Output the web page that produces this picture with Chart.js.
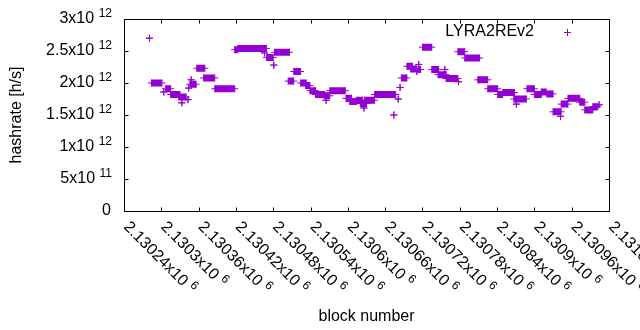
<!DOCTYPE html>
<html>
<head>
<meta charset="utf-8">
<script src="https://cdn.jsdelivr.net/npm/chart.js@4/dist/chart.umd.min.js"></script>
<style>
  html, body { margin: 0; padding: 0; background: #fff; }
  #wrap { width: 640px; height: 330px; }
</style>
</head>
<body>
<div id="wrap"><canvas id="hashChart" width="640" height="330"></canvas></div>
<script>
// --- Data: runs of blocks with the same estimated hashrate (h/s) ---
// a run with start == end is a single block
const segStart = [
    2130281, 2130284, 2130304, 2130307, 2130315, 2130328, 2130333, 2130343, 2130344, 2130346,
    2130348, 2130357, 2130368, 2130386, 2130418, 2130423, 2130466, 2130469, 2130481, 2130482,
    2130504, 2130513, 2130524, 2130532, 2130539, 2130548, 2130562, 2130565, 2130571, 2130597,
    2130603, 2130614, 2130620, 2130626, 2130627, 2130643, 2130674, 2130681, 2130684, 2130686,
    2130695, 2130701, 2130711, 2130714, 2130713, 2130720, 2130735, 2130745, 2130756, 2130758,
    2130778, 2130777, 2130788, 2130809, 2130825, 2130841, 2130849, 2130867, 2130871, 2130888,
    2130900, 2130911, 2130920, 2130930, 2130942, 2130943, 2130954, 2130973, 2130981, 2130994,
    2131004
];
const segEnd = [
    2130281, 2130301, 2130304, 2130315, 2130330, 2130340, 2130333, 2130343, 2130344, 2130356,
    2130348, 2130370, 2130386, 2130418, 2130423, 2130469, 2130466, 2130480, 2130481, 2130506,
    2130513, 2130524, 2130533, 2130539, 2130548, 2130563, 2130571, 2130565, 2130596, 2130606,
    2130614, 2130624, 2130630, 2130626, 2130643, 2130677, 2130674, 2130681, 2130684, 2130695,
    2130704, 2130711, 2130711, 2130714, 2130717, 2130735, 2130746, 2130758, 2130756, 2130777,
    2130778, 2130788, 2130812, 2130825, 2130841, 2130849, 2130868, 2130887, 2130871, 2130900,
    2130911, 2130919, 2130930, 2130943, 2130942, 2130954, 2130973, 2130981, 2130994, 2131002,
    2131004
];
const segValue = [
    2.70e12, 2.00e12, 1.86e12, 1.91e12, 1.82e12, 1.78e12, 1.69e12, 1.74e12, 1.92e12, 1.98e12,
    2.05e12, 2.23e12, 2.08e12, 1.91e12, 2.52e12, 2.54e12, 2.47e12, 2.40e12, 2.28e12, 2.48e12,
    2.03e12, 2.18e12, 2.00e12, 1.96e12, 1.88e12, 1.82e12, 1.80e12, 1.73e12, 1.88e12, 1.76e12,
    1.71e12, 1.73e12, 1.68e12, 1.61e12, 1.73e12, 1.82e12, 1.50e12, 1.75e12, 1.93e12, 2.08e12,
    2.26e12, 2.22e12, 2.18e12, 2.29e12, 2.21e12, 2.56e12, 2.21e12, 2.13e12, 2.21e12, 2.07e12,
    2.02e12, 2.49e12, 2.39e12, 2.05e12, 1.91e12, 1.82e12, 1.85e12, 1.75e12, 1.67e12, 1.91e12,
    1.82e12, 1.86e12, 1.83e12, 1.55e12, 1.48e12, 1.67e12, 1.76e12, 1.70e12, 1.58e12, 1.63e12,
    1.66e12
];

const xTicks = [2130240, 2130300, 2130360, 2130420, 2130480, 2130540, 2130600,
                2130660, 2130720, 2130780, 2130840, 2130900, 2130960, 2131020];
const yTicks = [0, 5e11, 1e12, 1.5e12, 2e12, 2.5e12, 3e12];

const seriesName = 'LYRA2REv2';
const purple = '#9400d3';
const fontFamily = '"Liberation Sans", Arial, sans-serif';
const mainSize = 16;
const expSize = 12;

// each run becomes two points joined by a thick line, then a gap
var points = [];
for (var i = 0; i < segStart.length; i++) {
    points.push({ x: segStart[i], y: segValue[i] });
    points.push({ x: segEnd[i], y: segValue[i] });
    points.push({ x: segEnd[i], y: null });
}

// "2.5x10" + "12"
function sciParts(v) {
    if (v === 0) return ['0', ''];
    var e = Math.floor(Math.log10(v) + 1e-9);
    var m = parseFloat((v / Math.pow(10, e)).toPrecision(6));
    return [m + 'x10', String(e)];
}

// gnuplot-like frame, inward ticks, labels with exponents, key
const gnuplotFrame = {
    id: 'gnuplotFrame',
    afterDraw: function (chart) {
        var ctx = chart.ctx;
        var a = chart.chartArea;
        var xs = chart.scales.x, ys = chart.scales.y;
        var L = Math.round(a.left) + 0.5, R = Math.round(a.right) + 0.5;
        var T = Math.round(a.top) + 0.5, B = Math.round(a.bottom) + 0.5;
        var tl = 4;

        ctx.save();
        ctx.strokeStyle = '#000';
        ctx.lineWidth = 1;
        ctx.beginPath();
        ctx.rect(L, T, R - L, B - T);
        yTicks.forEach(function (v) {
            var py = Math.round(ys.getPixelForValue(v)) + 0.5;
            ctx.moveTo(L, py); ctx.lineTo(L + tl, py);
            ctx.moveTo(R, py); ctx.lineTo(R - tl, py);
        });
        xTicks.forEach(function (v) {
            var px = Math.round(xs.getPixelForValue(v)) + 0.5;
            ctx.moveTo(px, B); ctx.lineTo(px, B - tl);
            ctx.moveTo(px, T); ctx.lineTo(px, T + tl);
        });
        ctx.stroke();

        ctx.fillStyle = '#000';
        ctx.textBaseline = 'middle';

        // y tick labels
        yTicks.forEach(function (v) {
            var py = ys.getPixelForValue(v);
            var p = sciParts(v);
            var right = 112;
            ctx.textAlign = 'right';
            if (p[1]) {
                ctx.font = expSize + 'px ' + fontFamily;
                var ew = ctx.measureText(p[1]).width;
                ctx.fillText(p[1], right, py - 5);
                ctx.font = mainSize + 'px ' + fontFamily;
                ctx.fillText(p[0], right - ew - 4.5, py);
            } else {
                ctx.font = mainSize + 'px ' + fontFamily;
                ctx.fillText(p[0], right - 1, py);
            }
        });

        // x tick labels, rotated 45 degrees
        xTicks.forEach(function (v) {
            var px = xs.getPixelForValue(v);
            var p = sciParts(v);
            ctx.save();
            ctx.translate(px + 2, B + 13);
            ctx.rotate(Math.PI / 4);
            ctx.textAlign = 'left';
            ctx.font = mainSize + 'px ' + fontFamily;
            var w = ctx.measureText(p[0]).width;
            ctx.fillText(p[0], 0, 0);
            ctx.font = expSize + 'px ' + fontFamily;
            ctx.fillText(p[1], w + 4.5, -5);
            ctx.restore();
        });

        // key
        ctx.font = mainSize + 'px ' + fontFamily;
        ctx.textAlign = 'right';
        ctx.fillText(seriesName, 534, 32);
        ctx.strokeStyle = purple;
        ctx.beginPath();
        ctx.moveTo(564, 32.5); ctx.lineTo(571, 32.5);
        ctx.moveTo(567.5, 29); ctx.lineTo(567.5, 36);
        ctx.stroke();
        ctx.restore();
    }
};

new Chart(document.getElementById('hashChart'), {
    type: 'line',
    data: {
        datasets: [{
            label: seriesName,
            data: points,
            borderColor: purple,
            backgroundColor: purple,
            borderWidth: 7,
            borderCapStyle: 'butt',
            tension: 0,
            spanGaps: false,
            pointStyle: 'cross',
            pointRadius: 3.5,
            pointBorderWidth: 1,
            pointBorderColor: purple,
            pointHoverRadius: 3.5
        }]
    },
    options: {
        responsive: false,
        animation: false,
        events: [],
        layout: { padding: { left: 0, right: 31, top: 19, bottom: 0 } },
        plugins: {
            legend: { display: false },
            tooltip: { enabled: false }
        },
        scales: {
            x: {
                type: 'linear',
                min: xTicks[0],
                max: xTicks[xTicks.length - 1],
                afterBuildTicks: function (scale) {
                    scale.ticks = xTicks.map(function (v) { return { value: v }; });
                },
                afterFit: function (scale) { scale.height = 119; },
                ticks: { display: false },
                grid: { display: false },
                border: { display: false },
                title: {
                    display: true,
                    text: 'block number',
                    color: '#000',
                    font: { family: fontFamily, size: mainSize },
                    padding: { top: 0, bottom: 4 }
                }
            },
            y: {
                type: 'linear',
                min: yTicks[0],
                max: yTicks[yTicks.length - 1],
                afterBuildTicks: function (scale) {
                    scale.ticks = yTicks.map(function (v) { return { value: v }; });
                },
                afterFit: function (scale) { scale.width = 124; },
                ticks: { display: false },
                grid: { display: false },
                border: { display: false },
                title: {
                    display: true,
                    text: 'hashrate [h/s]',
                    color: '#000',
                    font: { family: fontFamily, size: mainSize },
                    padding: { top: 7, bottom: 0 }
                }
            }
        }
    },
    plugins: [gnuplotFrame]
});
</script>
</body>
</html>
